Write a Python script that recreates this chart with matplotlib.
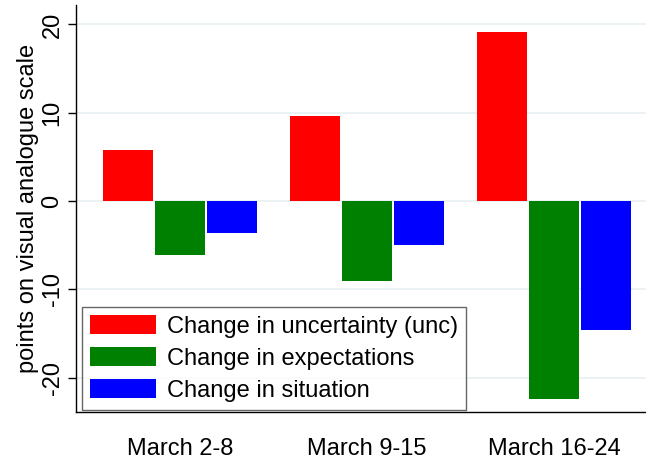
import matplotlib
matplotlib.use("Agg")
import matplotlib.pyplot as plt
import numpy as np

plt.rcParams['font.family'] = ['Liberation Sans', 'DejaVu Sans']

categories = ["March 2-8", "March 9-15", "March 16-24"]
series_names = ["Change in uncertainty (unc)", "Change in expectations", "Change in situation"]
unc = [5.8, 9.6, 19.1]
expect = [-6.1, -9.1, -22.4]
situation = [-3.6, -5.0, -14.6]
colors = ["#ff0000", "#008000", "#0000ff"]
yticks = [-20, -10, 0, 10, 20]

FS = 17

fig = plt.figure(figsize=(6.46, 4.63), dpi=100)
ax = fig.add_axes([76/646, 51/463, 570/646, 407/463])

x = np.arange(len(categories))
w = 0.267
step = 0.278
for i, (vals, name, c) in enumerate(zip([unc, expect, situation], series_names, colors)):
    ax.bar(x + (i - 1) * step, vals, width=w, color=c, label=name, zorder=3, linewidth=0)

ax.set_xlim(-0.556, 2.49)
ax.set_ylim(-23.9, 22.2)
ax.set_yticks(yticks)
ax.set_yticklabels([str(t) for t in yticks], rotation=90, va='center', fontsize=FS)
ax.set_xticks(x)
ax.set_xticklabels(categories, fontsize=FS)
ax.tick_params(axis='x', length=0, pad=19)
ax.tick_params(axis='y', length=6, width=1, pad=3, color='black')
ax.yaxis.grid(True, color='#e8f0f2', linewidth=1.2, zorder=0)
ax.set_axisbelow(True)
for s in ['top', 'right']:
    ax.spines[s].set_visible(False)
for s in ['left', 'bottom']:
    ax.spines[s].set_linewidth(1.0)
    ax.spines[s].set_color('black')
ax.set_ylabel("points on visual analogue scale", fontsize=FS, labelpad=2)

leg = ax.legend(loc='lower left', bbox_to_anchor=(6/570, 2/407), fontsize=FS,
                frameon=True, fancybox=False, edgecolor='#404040', borderpad=0.35,
                handlelength=2.8, handleheight=0.85, labelspacing=0.4, handletextpad=0.45,
                borderaxespad=0)
leg.get_frame().set_linewidth(1.0)

fig.savefig("out.png", dpi=100, facecolor='white')
